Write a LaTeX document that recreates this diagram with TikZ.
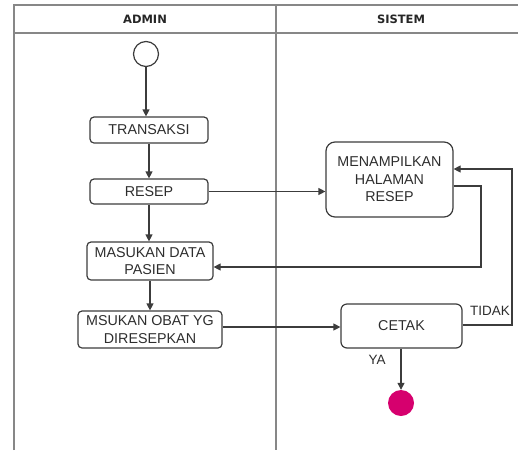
\documentclass[tikz,border=0pt]{standalone}
\usepackage{fontspec}
\setmainfont{Liberation Sans}
\newfontfamily\headfont{DejaVu Sans}
\usetikzlibrary{arrows.meta,calc}
\definecolor{lanegray}{RGB}{135,135,135}
\definecolor{linegray}{RGB}{60,60,60}
\definecolor{textgray}{RGB}{45,45,45}
\definecolor{endpink}{RGB}{214,0,110}
\tikzset{
  lane/.style={draw=lanegray, line width=1.8pt},
  act/.style={draw=linegray, line width=1.2pt, rounded corners=4pt, rectangle,
    align=center, inner sep=1pt, text=textgray,
    font=\fontsize{14.3}{17.5}\selectfont},
  flow/.style={draw=linegray, line width=1.2pt,
    -{Triangle[length=7pt,width=7pt]}},
  head/.style={font=\headfont\bfseries\fontsize{11.5}{13}\selectfont, text=black!85},
  lbl/.style={font=\fontsize{13.5}{15}\selectfont, text=textgray, inner sep=0pt}
}
\begin{document}
\begin{tikzpicture}[x=1pt,y=-1pt]
\useasboundingbox (0,0) rectangle (518,450);
% swimlanes
\draw[lane] (14,450) -- (14,5) -- (518,5);
\draw[lane] (14,33) -- (518,33);
\draw[lane] (276,5) -- (276,450);
\node[head] (hadmin) at (145,19) {ADMIN};
\node[head] (hsistem) at (401,19) {SISTEM};

% start and end
\node[circle, draw=linegray, line width=1.2pt, minimum size=25pt, inner sep=0pt] (start) at (146,54) {};
\node[circle, fill=endpink, minimum size=26pt, inner sep=0pt] (stop) at (401,403) {};

% activities
\node[act, minimum width=118pt, minimum height=26pt] (transaksi) at (149,130) {TRANSAKSI};
\node[act, minimum width=118pt, minimum height=25pt] (resep) at (149,191.5) {RESEP};
\node[act, minimum width=126pt, minimum height=38pt] (masukan) at (150,261) {MASUKAN DATA\\PASIEN};
\node[act, minimum width=144pt, minimum height=37pt] (obat) at (150,329.5) {MSUKAN OBAT YG\\DIRESEPKAN};
\node[act, rounded corners=9pt, minimum width=127pt, minimum height=75pt] (tampil) at (389.5,179.5) {MENAMPILKAN\\HALAMAN\\RESEP};
\node[act, rounded corners=6pt, minimum width=121pt, minimum height=44pt] (cetak) at (401.5,326) {CETAK};

% flows
\draw[flow] (start.south) -- (start.south |- transaksi.north);
\draw[flow] (transaksi.south) -- (resep.north);
\draw[flow] (resep.south) -- (resep.south |- masukan.north);
\draw[flow] (masukan.south) -- (obat.north);
\draw[flow] (resep.east) -- (resep.east -| tampil.west);
\coordinate (t1) at ($(tampil.east)+(0,6.5)$);
\draw[flow] (t1) -| (481,267) -- (masukan.east |- 0,267);
\draw[flow] (obat.east |- 0,327) -- (cetak.west |- 0,327);
\coordinate (c1) at ($(cetak.east)+(0,-1)$);
\draw[flow] (c1) -| (512,169) -- (tampil.east |- 0,169);
\draw[flow] (cetak.south -| stop.north) -- (stop.north);

% guard labels
\node[lbl] (tidak) at (490,311) {TIDAK};
\node[lbl] (ya) at (377,360) {YA};
\end{tikzpicture}
\end{document}
